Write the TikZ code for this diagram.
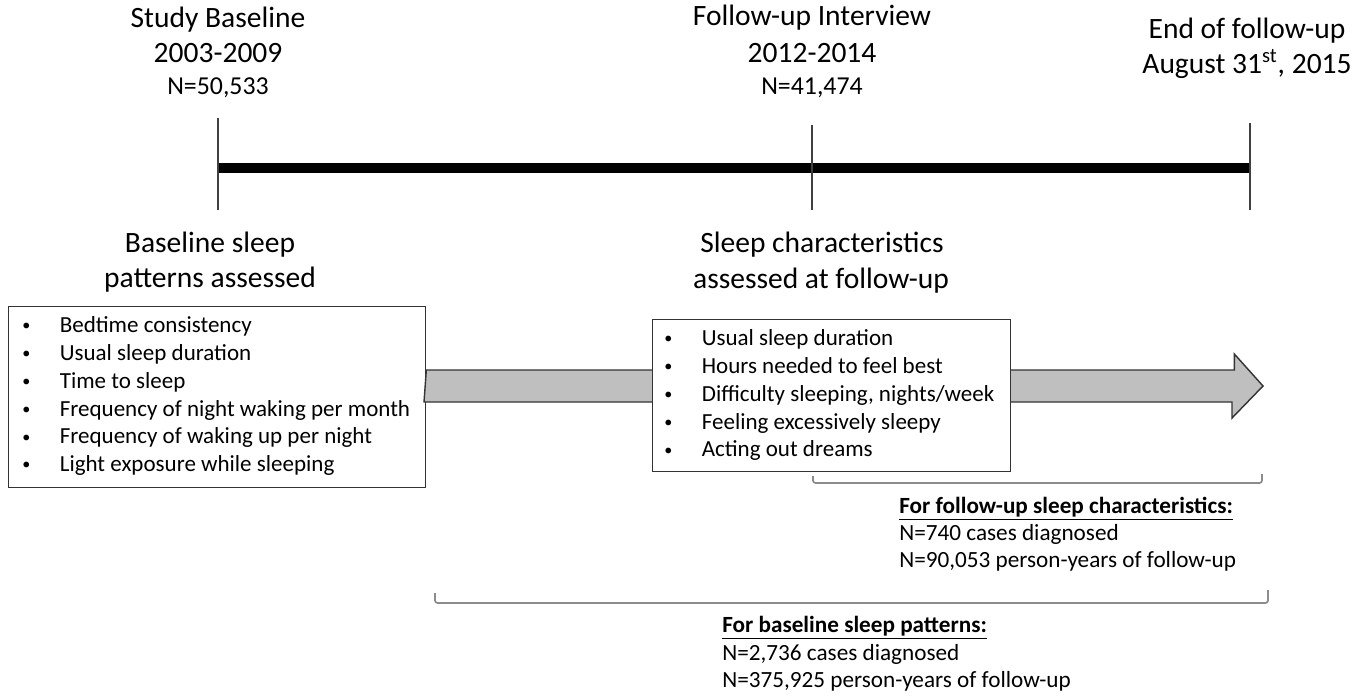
\documentclass[tikz,border=0pt]{standalone}
\usepackage{fontspec}
\setmainfont{Carlito}

%styles for labels, lists and shapes
\tikzset{
  lbl/.style={inner sep=0pt, text height=0.65em, text depth=0pt, font=\fontsize{16.8}{20}\selectfont},
  nlbl/.style={lbl, font=\fontsize{14.7}{18}\selectfont},
  itm/.style={anchor=west, inner sep=0pt, text height=0.65em, text depth=0pt, font=\fontsize{13.1}{16}\selectfont},
  note/.style={itm, font=\fontsize{13.2}{16}\selectfont},
  listbox/.style={draw=black!80, line width=0.8pt, fill=white, anchor=north west, inner sep=0pt},
  bigarrow/.style={draw=black!80, line width=0.8pt, fill=black!25},
  tick/.style={draw=black!75, line width=0.6pt},
  brace/.style={draw=black!45, line width=1pt, rounded corners=1.5pt}
}
\newcommand{\bul}[1]{\makebox[0.83cm][l]{\hspace{0.08cm}\raisebox{0.08em}{\scalebox{0.7}{\textbullet}}}#1}

\begin{document}
\begin{tikzpicture}[x=0.02cm, y=-0.02cm]
\useasboundingbox[fill=white] (0,0) rectangle (1372,698);

%draws timeline and ticks
\coordinate (base) at (218,168);
\coordinate (fup) at (812,168);
\coordinate (endfu) at (1250,168);
\draw[line width=5.7pt] (base) -- (fup) -- (endfu);
\foreach \p/\t in {base/50, fup/43, endfu/45}
    \draw[tick] (\p) ++(0,-\t) -- ++(0,{\t+42});

%time point labels
\node[lbl] (sbase) at (218,22) {Study Baseline};
\node[lbl] (sbyear) at (218,57) {2003-2009};
\node[nlbl] (sbn) at (218,89) {N=50,533};
\node[lbl] (fuint) at (812,20) {Follow-up Interview};
\node[lbl] (fuyear) at (812,57) {2012-2014};
\node[nlbl] (fun) at (812,89) {N=41,474};
\node[lbl] (endlbl) at (1247,33) {End of follow-up};
\node[lbl] (enddate) at (1247,68) {August 31\textsuperscript{st}, 2015};

%titles above boxes
\node[lbl] (bstitle) at (210,247) {Baseline sleep};
\node[lbl] (bstitleb) at (210,282) {patterns assessed};
\node[lbl] (fstitle) at (822,247) {Sleep characteristics};
\node[lbl] (fstitleb) at (821,283) {assessed at follow-up};

%boxes and grey arrow
\node[listbox, minimum width=8.34cm, minimum height=3.62cm] (basebox) at (8,306) {};
\coordinate (arrowtip) at (1263,386);
\path (basebox.east |- arrowtip) coordinate (arrowstart);
\draw[bigarrow] (arrowstart) ++(0,-16) -- ++(808,0) -- ++(0,-16) -- (arrowtip)
    -- ++(-31,32) -- ++(0,-16) -- ++(-808,0) -- cycle;
\node[listbox, minimum width=7.16cm, minimum height=3.04cm] (fubox) at (652,319) {};

%list items
\foreach \t [count=\i] in {Bedtime consistency, Usual sleep duration, Time to sleep,
    Frequency of night waking per month, Frequency of waking up per night,
    Light exposure while sleeping}
    \node[itm] (bitem\i) at (18,{299.2+27.8*\i}) {\bul{\t}};
\foreach \t [count=\i] in {Usual sleep duration, Hours needed to feel best,
    {Difficulty sleeping, nights/week}, Feeling excessively sleepy, Acting out dreams}
    \node[itm] (fitem\i) at (660,{312.2+27.8*\i}) {\bul{\t}};

%follow-up bracket and counts
\draw[brace] (813,476) -- (813,483) -- (1262,483) -- (1262,474);
\node[note] (fuhead) at (899,508) {\underline{\textbf{For follow-up sleep characteristics:}}};
\node[note] (fucases) at (899,535) {N=740 cases diagnosed};
\node[note] (fupy) at (899,562) {N=90,053 person-years of follow-up};

%baseline bracket and counts
\draw[brace] (435,593) -- (435,603) -- (1268,603) -- (1268,590);
\node[note] (bhead) at (722,627) {\underline{\textbf{For baseline sleep patterns:}}};
\node[note] (bcases) at (722,655) {N=2,736 cases diagnosed};
\node[note] (bpy) at (722,682) {N=375,925 person-years of follow-up};
\end{tikzpicture}
\end{document}
